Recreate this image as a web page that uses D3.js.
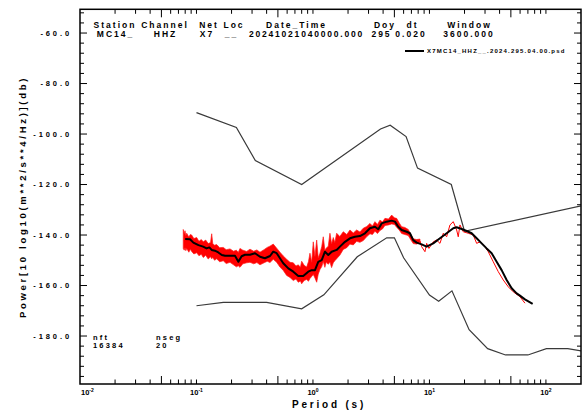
<!DOCTYPE html>
<html>
<head>
<meta charset="utf-8">
<script src="https://cdn.jsdelivr.net/npm/d3@7"></script>
<style>
  body { margin: 0; background: #fff; }
  text { font-family: "Liberation Sans", Arial, sans-serif; font-weight: bold; fill: #000; }
</style>
</head>
<body>
<div id="wrapper"></div>
<script>
// 1. Data

// Peterson high / low noise models
const nhnmPeriod = [0.10, 0.22, 0.32, 0.80, 3.80, 4.60, 6.30, 7.90, 15.40, 20.00, 354.80]
const nhnmPower = [-91.5, -97.4, -110.5, -120.0, -98.0, -96.5, -101.0, -113.5, -120.0, -138.5, -126.0]
const nlnmPeriod = [0.10, 0.17, 0.40, 0.80, 1.24, 2.40, 4.30, 5.00, 6.00, 10.00, 12.00, 15.60, 21.90, 31.60, 45.00, 70.00, 101.00, 154.00, 328.00]
const nlnmPower = [-168.0, -166.7, -166.7, -169.2, -163.7, -148.6, -141.1, -141.1, -149.0, -163.8, -166.2, -162.1, -177.5, -185.0, -187.5, -187.5, -185.0, -185.0, -187.5]

// red raw psd, dense part: [period, high, low]
const redBand = [
  [0.0770, -137.8, -145.3], [0.0785, -139.5, -146.0], [0.0797, -138.3, -145.0], [0.0810, -140.2, -146.2],
  [0.0824, -139.3, -145.3], [0.0860, -140.8, -146.8], [0.0885, -139.8, -145.6], [0.0909, -140.0, -146.5],
  [0.0950, -141.4, -147.5], [0.1004, -141.0, -147.0], [0.1050, -142.5, -148.2], [0.1100, -141.8, -147.6],
  [0.1144, -142.7, -148.9], [0.1200, -142.0, -148.0], [0.1260, -143.4, -149.5], [0.1320, -143.0, -148.6],
  [0.1351, -139.5, -149.4], [0.1380, -143.5, -148.9], [0.1430, -144.0, -150.0], [0.1491, -143.8, -149.4],
  [0.1580, -145.0, -150.6], [0.1698, -144.9, -150.2], [0.1800, -145.8, -151.3], [0.1940, -145.5, -150.8],
  [0.2080, -146.4, -151.8], [0.2200, -146.0, -152.6], [0.2285, -146.9, -152.2], [0.2362, -145.3, -152.8],
  [0.2500, -146.0, -151.4], [0.2697, -146.5, -151.0], [0.2879, -145.6, -150.8], [0.3100, -146.4, -151.4],
  [0.3300, -145.9, -150.9], [0.3508, -146.8, -151.8], [0.3800, -145.8, -151.0], [0.4050, -144.9, -150.4],
  [0.4275, -144.4, -150.9], [0.4563, -143.6, -149.6], [0.4880, -145.2, -150.8], [0.5208, -146.8, -152.7],
  [0.5560, -148.3, -154.0], [0.5943, -149.6, -156.0], [0.6350, -150.8, -156.8], [0.6775, -151.0, -158.0],
  [0.7150, -152.3, -157.4], [0.7478, -151.8, -158.7], [0.7800, -152.8, -158.2], [0.7998, -150.4, -159.3],
  [0.8400, -152.0, -158.0], [0.8829, -152.7, -157.6], [0.9150, -150.5, -158.3], [0.9424, -147.2, -157.2],
  [0.9750, -150.8, -156.4], [1.006, -142.7, -155.6], [1.040, -148.5, -157.0], [1.076, -142.0, -158.7],
  [1.110, -149.0, -155.5], [1.148, -147.2, -153.7], [1.190, -144.5, -152.5], [1.226, -140.7, -150.5],
  [1.265, -146.0, -152.8], [1.300, -145.2, -150.8], [1.353, -144.4, -151.6], [1.399, -139.3, -150.7],
  [1.445, -143.5, -152.9], [1.494, -141.0, -151.0], [1.540, -143.0, -150.2], [1.597, -139.3, -149.4],
  [1.700, -140.6, -148.0], [1.820, -138.7, -145.7], [1.950, -139.8, -145.0], [2.078, -138.0, -143.6],
  [2.220, -139.2, -143.9], [2.372, -138.0, -142.5], [2.530, -138.8, -142.9], [2.703, -137.3, -142.2],
  [2.900, -136.6, -140.6], [3.085, -135.4, -139.5], [3.240, -136.4, -139.8], [3.405, -134.7, -138.5],
  [3.580, -135.8, -139.4], [3.759, -134.1, -138.2], [3.950, -134.8, -137.6], [4.150, -133.4, -136.2],
  [4.450, -133.7, -136.0], [4.738, -132.1, -135.6], [5.000, -133.2, -135.8], [5.230, -133.4, -136.9],
  [5.500, -135.2, -138.0], [5.773, -136.7, -139.4], [6.150, -137.0, -139.8], [6.577, -137.8, -140.2],
  [6.900, -139.6, -141.8], [7.260, -141.5, -143.4], [7.750, -141.8, -143.6], [8.288, -141.6, -143.0],
]
// red raw psd, long periods as a single line
const redPeriod = [8.288, 8.572, 9.150, 9.462, 9.90, 10.78, 11.53, 12.31, 13.14, 14.05, 15.00, 16.01, 17.12, 17.67, 18.27, 19.50, 21.53, 23.77, 25.42, 27.14, 29.96, 31.97, 35.30, 38.96, 43.00, 47.48, 52.41, 59.83, 66.04]
const redPower = [-142.3, -144.6, -146.6, -143.3, -145.3, -142.7, -142.0, -143.3, -139.3, -140.7, -136.0, -134.7, -138.0, -140.7, -136.0, -138.7, -139.3, -140.0, -143.3, -142.7, -144.6, -146.6, -150.6, -154.5, -157.8, -160.5, -162.5, -164.4, -167.0]

// black smoothed psd
const smoothPeriod = [0.080, 0.088, 0.094, 0.104, 0.114, 0.122, 0.129, 0.135, 0.144, 0.154, 0.165, 0.176, 0.194, 0.214, 0.229, 0.244, 0.261, 0.288, 0.318, 0.351, 0.387, 0.428, 0.456, 0.488, 0.521, 0.556, 0.614, 0.678, 0.748, 0.825, 0.911, 0.975, 1.040, 1.110, 1.188, 1.268, 1.353, 1.447, 1.597, 1.705, 1.883, 2.078, 2.294, 2.532, 2.795, 3.085, 3.405, 3.636, 3.888, 4.292, 4.738, 5.057, 5.398, 5.773, 6.373, 6.801, 7.260, 7.766, 8.572, 9.462, 10.78, 12.31, 14.05, 16.01, 17.12, 18.90, 20.86, 23.03, 25.42, 28.06, 30.97, 34.20, 37.75, 41.67, 46.00, 50.78, 56.05, 59.83, 66.0, 76.9]
const smoothPower = [-141.6, -141.7, -143.0, -144.0, -144.6, -145.3, -144.9, -145.9, -146.2, -146.9, -147.9, -148.2, -148.2, -148.2, -150.6, -148.4, -147.8, -147.8, -147.2, -148.6, -149.2, -148.3, -146.6, -147.2, -149.2, -151.2, -153.2, -154.5, -156.2, -156.2, -154.5, -153.9, -153.9, -150.6, -149.9, -146.6, -147.9, -146.6, -145.9, -144.6, -142.7, -141.3, -140.7, -140.4, -139.3, -137.3, -136.7, -137.7, -135.4, -134.7, -134.3, -134.7, -136.7, -138.0, -138.7, -139.3, -142.0, -143.0, -143.7, -144.6, -143.3, -141.3, -139.3, -137.3, -136.9, -137.6, -138.4, -139.3, -141.3, -143.3, -145.3, -147.2, -150.6, -153.9, -157.8, -161.1, -163.1, -164.0, -165.5, -167.3]

const yTickValues = [-60, -80, -100, -120, -140, -160, -180]
const xTickExponents = ["-2", "-1", "0", "1", "2"]

const headerNames = ["Station", "Channel", "Net", "Loc", "Date_Time", "Doy", "dt", "Window"]
const headerValues = ["MC14_", "HHZ", "X7", "__", "20241021040000.000", "295", "0.020", "3600.000"]
const legendLabel = "X7MC14_HHZ__.2024.295.04.00.psd"
const footNames = ["nft", "nseg"]
const footValues = ["16384", "20"]

// 2. Dimensions
let dimensions = {
  width: 582,
  height: 411,
  margin: { top: 9.3, right: 1, bottom: 27, left: 80 },
}
dimensions.boundedWidth = dimensions.width - dimensions.margin.left - dimensions.margin.right
dimensions.boundedHeight = dimensions.height - dimensions.margin.top - dimensions.margin.bottom

// 3. Canvas
const wrapper = d3.select("#wrapper")
  .append("svg")
    .attr("width", dimensions.width)
    .attr("height", dimensions.height)
    .style("display", "block")

wrapper.append("rect")
    .attr("width", dimensions.width)
    .attr("height", dimensions.height)
    .attr("fill", "#fff")

const bounds = wrapper.append("g")
    .attr("transform", `translate(${dimensions.margin.left},${dimensions.margin.top})`)

bounds.append("clipPath")
    .attr("id", "plot-clip")
  .append("rect")
    .attr("width", dimensions.boundedWidth)
    .attr("height", dimensions.boundedHeight)

// 4. Scales
const xScale = d3.scaleLog()
  .domain([0.01, 200])
  .range([0, dimensions.boundedWidth])

const yScale = d3.scaleLinear()
  .domain([-199.0, -50.6])
  .range([dimensions.boundedHeight, 0])

// 5. Data marks
const plot = bounds.append("g").attr("clip-path", "url(#plot-clip)")

const lineGen = d3.line()
  .x(d => xScale(d[0]))
  .y(d => yScale(d[1]))

const nhnm = d3.zip(nhnmPeriod, nhnmPower)
const nlnm = d3.zip(nlnmPeriod, nlnmPower)
plot.selectAll(".model")
  .data([nhnm, nlnm])
  .join("path")
    .attr("class", "model")
    .attr("d", lineGen)
    .attr("fill", "none")
    .attr("stroke", "#3a3a3a")
    .attr("stroke-width", 1.2)

const areaGen = d3.area()
  .x(d => xScale(d[0]))
  .y0(d => yScale(d[2]))
  .y1(d => yScale(d[1]))

plot.append("path")
    .attr("d", areaGen(redBand))
    .attr("fill", "#ff0000")
    .attr("stroke", "#ff1a1a")
    .attr("stroke-width", 0.7)

plot.append("path")
    .attr("d", lineGen(d3.zip(redPeriod, redPower)))
    .attr("fill", "none")
    .attr("stroke", "#ff0000")
    .attr("stroke-width", 1)

plot.append("path")
    .attr("d", lineGen(d3.zip(smoothPeriod, smoothPower)))
    .attr("fill", "none")
    .attr("stroke", "#000")
    .attr("stroke-width", 2)
    .attr("stroke-linejoin", "round")

// 6. Peripherals: frame and ticks
const bw = dimensions.boundedWidth
const bh = dimensions.boundedHeight

const xTicks = xScale.ticks().filter(v => v > 0.0101 && v < 199)
const leading = v => Math.round(v / Math.pow(10, Math.floor(Math.log10(v) + 1e-9)))
const xTickLen = v => leading(v) === 5 ? 8 : 4.5

const tickGroup = bounds.append("g")
  .attr("stroke", "#000")
  .attr("stroke-width", 1)

tickGroup.selectAll(".xb")
  .data(xTicks)
  .join("line")
    .attr("x1", d => xScale(d)).attr("x2", d => xScale(d))
    .attr("y1", bh).attr("y2", d => bh - xTickLen(d))

tickGroup.selectAll(".xt")
  .data(xTicks)
  .join("line")
    .attr("x1", d => xScale(d)).attr("x2", d => xScale(d))
    .attr("y1", 0).attr("y2", d => xTickLen(d))

const yTicks = d3.range(-196, -50, 4)
const yTickLen = v => v % 20 === 0 ? 7 : 4

tickGroup.selectAll(".yl")
  .data(yTicks)
  .join("line")
    .attr("x1", 0).attr("x2", d => yTickLen(d))
    .attr("y1", d => yScale(d)).attr("y2", d => yScale(d))

tickGroup.selectAll(".yr")
  .data(yTicks)
  .join("line")
    .attr("x1", bw).attr("x2", d => bw - yTickLen(d))
    .attr("y1", d => yScale(d)).attr("y2", d => yScale(d))

bounds.append("rect")
    .attr("width", bw)
    .attr("height", bh)
    .attr("fill", "none")
    .attr("stroke", "#000")
    .attr("stroke-width", 1.5)

// y tick labels
bounds.selectAll(".ylabel")
  .data(yTickValues)
  .join("text")
    .attr("x", -8)
    .attr("y", d => yScale(d))
    .attr("dy", "0.35em")
    .attr("text-anchor", "end")
    .style("font-size", "7.5px")
    .style("letter-spacing", "2.9px")
    .text(d => d.toFixed(1))

// x tick labels 10^n
const xLabels = bounds.selectAll(".xlabel")
  .data(xTickExponents)
  .join("text")
    .attr("x", (d, i) => i === 0 ? 1 : xScale(Math.pow(10, +d)))
    .attr("y", bh + 11)
    .attr("text-anchor", (d, i) => i === 0 ? "start" : "middle")
    .style("font-size", "7.5px")
xLabels.append("tspan").text("10")
xLabels.append("tspan")
    .attr("dy", -3)
    .style("font-size", "5px")
    .text(d => d)

// axis titles
bounds.append("text")
    .attr("x", 249)
    .attr("y", bh + 24)
    .attr("text-anchor", "middle")
    .style("font-size", "10px")
    .style("letter-spacing", "2.8px")
    .text("Period (s)")

wrapper.append("text")
    .attr("transform", "translate(25.5,197) rotate(-90)")
    .attr("text-anchor", "middle")
    .style("font-size", "9.5px")
    .style("letter-spacing", "2.7px")
    .text("Power[10 log10(m**2/s**4/Hz)](db)")

// header block
const headerCenters = [114, 164, 208, 233, 295.5, 384, 411.5, 468.5]
const valueCenters = [114.5, 164.5, 206, 230.5, 305.5, 380.5, 410, 468]
wrapper.selectAll(".hname")
  .data(headerNames)
  .join("text")
    .attr("x", (d, i) => headerCenters[i] + 1)
    .attr("y", 27.5)
    .attr("text-anchor", "middle")
    .style("font-size", "8.5px")
    .style("letter-spacing", "2px")
    .text(d => d)

wrapper.selectAll(".hvalue")
  .data(headerValues)
  .join("text")
    .attr("x", (d, i) => valueCenters[i] + 1)
    .attr("y", 36.5)
    .attr("text-anchor", "middle")
    .style("font-size", "8.5px")
    .style("letter-spacing", (d, i) => i === 4 ? "1.8px" : "2px")
    .text(d => d)

// legend
wrapper.append("line")
    .attr("x1", 405).attr("x2", 424)
    .attr("y1", 51).attr("y2", 51)
    .attr("stroke", "#000")
    .attr("stroke-width", 2)

wrapper.append("text")
    .attr("x", 427)
    .attr("y", 53.2)
    .style("font-size", "6px")
    .style("letter-spacing", "1.2px")
    .text(legendLabel)

// nft / nseg block
const footX = [93, 156]
wrapper.selectAll(".fname")
  .data(footNames)
  .join("text")
    .attr("x", (d, i) => footX[i])
    .attr("y", 339.5)
    .style("font-size", "7.5px")
    .style("letter-spacing", "2.2px")
    .text(d => d)

wrapper.selectAll(".fvalue")
  .data(footValues)
  .join("text")
    .attr("x", (d, i) => footX[i])
    .attr("y", 347.8)
    .style("font-size", "7.5px")
    .style("letter-spacing", "2.2px")
    .text(d => d)
</script>
</body>
</html>
